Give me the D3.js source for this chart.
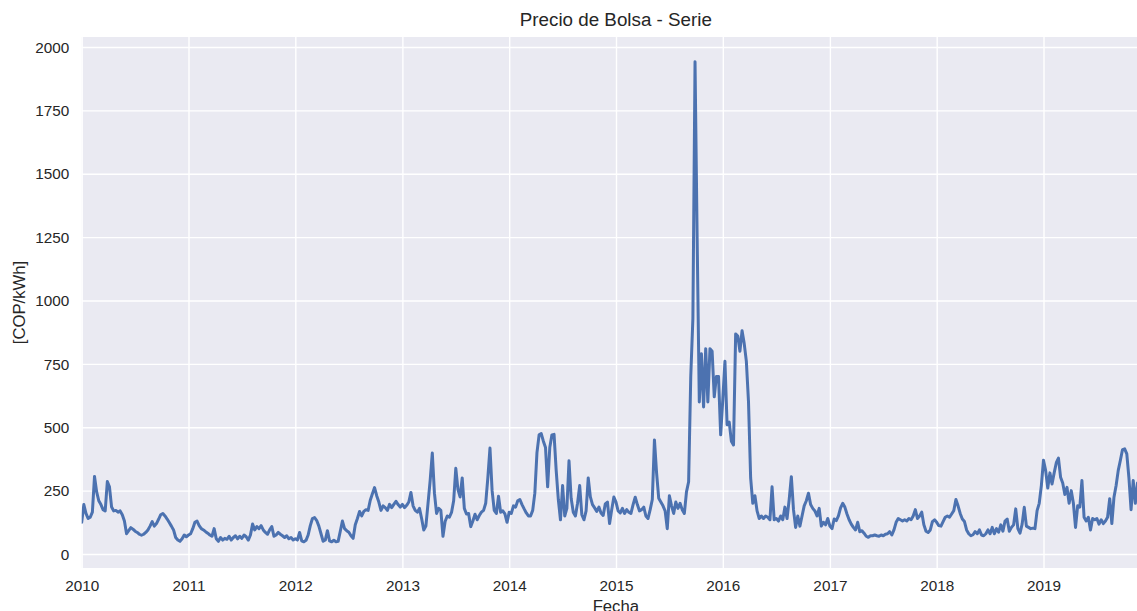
<!DOCTYPE html>
<html>
<head>
<meta charset="utf-8">
<script src="https://cdn.jsdelivr.net/npm/d3@7"></script>
<style>
  html, body { margin: 0; padding: 0; background: #ffffff; }
  svg { display: block; font-family: "Liberation Sans", Arial, sans-serif; }
</style>
</head>
<body>
<svg id="chart" width="1137" height="611"></svg>
<script>
// Daily spot price ("precio de bolsa"), sampled ~weekly: 50 evenly spaced values per year.
const SAMPLES_PER_YEAR = 50;
const price2010 = [125,195,160,140,145,165,306,245,210,195,175,170,286,265,185,170,172,165,170,155,
                   130,80,92,104,98,90,85,78,74,78,85,95,110,128,110,120,137,155,160,150,
                   138,124,110,95,65,55,50,60,75,68];
const price2011 = [75,80,100,125,130,112,100,95,88,82,75,70,100,60,50,65,55,62,58,70,
                   55,65,72,60,70,62,75,68,55,75,118,95,108,100,112,95,85,78,95,108,
                   70,75,85,78,72,65,72,60,65,55];
const price2012 = [60,55,85,52,48,54,75,112,140,144,132,110,80,50,55,92,52,48,54,48,
                   50,90,130,100,92,86,72,62,115,140,168,150,168,175,172,212,238,262,230,205,
                   172,190,183,172,196,183,196,208,195,185];
const price2013 = [196,183,192,205,243,190,172,165,180,140,95,110,200,290,398,240,160,180,172,70,
                   128,150,145,164,210,338,255,225,300,180,158,160,108,130,157,135,152,165,172,200,
                   300,418,250,172,160,228,165,170,158,125];
const price2014 = [165,160,190,185,210,215,195,178,162,150,150,172,240,400,470,475,445,420,265,420,
                   470,472,330,215,135,270,150,180,368,220,165,150,200,270,155,135,170,300,225,195,
                   182,168,185,162,152,198,205,120,175,225];
const price2015 = [205,170,162,180,160,175,165,160,195,224,195,170,175,185,150,140,175,215,450,320,
                   220,205,190,170,100,230,190,160,205,180,200,175,160,245,285,700,930,1942,1240,600,
                   790,580,810,600,810,800,620,700,700,470];
const price2016 = [610,760,510,520,445,430,868,860,800,881,830,760,600,300,200,230,170,140,150,140,
                   150,145,135,265,135,140,130,150,135,185,140,215,305,175,105,150,110,150,190,210,
                   240,195,180,170,150,180,110,125,115,140];
const price2017 = [110,100,138,132,150,182,200,185,158,135,118,105,95,125,88,92,82,70,66,72,
                   72,75,72,70,75,72,78,80,88,75,95,125,140,135,130,135,130,140,135,150,
                   175,140,150,165,115,90,85,95,128,135];
const price2018 = [125,112,110,128,145,150,145,158,171,215,190,160,138,128,95,80,72,76,88,80,
                   95,75,72,80,95,80,105,80,100,86,115,90,130,138,90,105,115,178,100,82,
                   118,184,110,105,100,102,100,171,200,270];
const price2019 = [370,330,260,320,276,320,360,378,303,280,235,263,200,250,200,105,190,185,290,145,
                   130,145,95,140,135,140,118,135,120,130,145,218,120,224,270,330,370,412,415,395,
                   300,175,290,200,280];

const years = [2010, 2011, 2012, 2013, 2014, 2015, 2016, 2017, 2018, 2019];
const yearly = [price2010, price2011, price2012, price2013, price2014,
                price2015, price2016, price2017, price2018, price2019];
const yTicks = [0, 250, 500, 750, 1000, 1250, 1500, 1750, 2000];

const chartTitle = "Precio de Bolsa - Serie";
const xLabel = "Fecha";
const yLabel = "[COP/kWh]";

// Flatten the yearly arrays into dated points.
const series = [];
years.forEach((yr, k) => {
  const start = Date.UTC(yr, 0, 1);
  const span = Date.UTC(yr + 1, 0, 1) - start;
  yearly[k].forEach((v, i) => {
    series.push({ date: new Date(start + i * span / SAMPLES_PER_YEAR), value: v });
  });
});

const svg = d3.select("#chart");
const plot = { left: 81.7, right: 1150, top: 37, bottom: 568 };

const x = d3.scaleUtc()
  .domain([new Date(Date.UTC(2010, 0, 1)), new Date(Date.UTC(2019, 11, 31))])
  .range([plot.left, plot.right]);
const y = d3.scaleLinear()
  .domain([-55.2, 2039.4])
  .range([plot.bottom, plot.top]);

const ink = "#262626";

// Plot background
svg.append("rect")
  .attr("x", plot.left).attr("y", plot.top)
  .attr("width", plot.right - plot.left).attr("height", plot.bottom - plot.top)
  .attr("fill", "#EAEAF2");

svg.append("defs").append("clipPath").attr("id", "plotClip")
  .append("rect")
  .attr("x", plot.left).attr("y", plot.top)
  .attr("width", plot.right - plot.left).attr("height", plot.bottom - plot.top);

// Gridlines via axes with full-length ticks
const xAxis = d3.axisBottom(x)
  .tickValues(years.map(yr => new Date(Date.UTC(yr, 0, 1))))
  .tickFormat(d3.utcFormat("%Y"))
  .tickSize(-(plot.bottom - plot.top))
  .tickPadding(12);
const yAxis = d3.axisLeft(y)
  .tickValues(yTicks)
  .tickFormat(d3.format("d"))
  .tickSize(-(plot.right - plot.left))
  .tickPadding(12.5);

const gx = svg.append("g").attr("transform", `translate(0,${plot.bottom})`).call(xAxis);
const gy = svg.append("g").attr("transform", `translate(${plot.left},0)`).call(yAxis);

[gx, gy].forEach(g => {
  g.select(".domain").remove();
  g.selectAll(".tick line").attr("stroke", "#ffffff").attr("stroke-width", 1.4);
  g.selectAll(".tick text")
    .attr("fill", ink)
    .style("font-size", "15.3px")
    .style("font-family", "'Liberation Sans', Arial, sans-serif");
});
gy.selectAll(".tick text").attr("dy", "0.34em");

// Price line
const line = d3.line()
  .x(d => x(d.date))
  .y(d => y(d.value));

svg.append("path")
  .datum(series)
  .attr("clip-path", "url(#plotClip)")
  .attr("fill", "none")
  .attr("stroke", "#4C72B0")
  .attr("stroke-width", 3)
  .attr("stroke-linejoin", "round")
  .attr("stroke-linecap", "round")
  .attr("d", line);

// Title and axis labels
const midX = (plot.left + plot.right) / 2;
svg.append("text")
  .attr("x", midX).attr("y", 26)
  .attr("text-anchor", "middle")
  .attr("fill", ink)
  .style("font-size", "18.8px")
  .text(chartTitle);

svg.append("text")
  .attr("x", midX).attr("y", 612)
  .attr("text-anchor", "middle")
  .attr("fill", ink)
  .style("font-size", "16.7px")
  .text(xLabel);

svg.append("text")
  .attr("transform", `translate(25,${(plot.top + plot.bottom) / 2}) rotate(-90)`)
  .attr("text-anchor", "middle")
  .attr("fill", ink)
  .style("font-size", "16.7px")
  .text(yLabel);
</script>
</body>
</html>
